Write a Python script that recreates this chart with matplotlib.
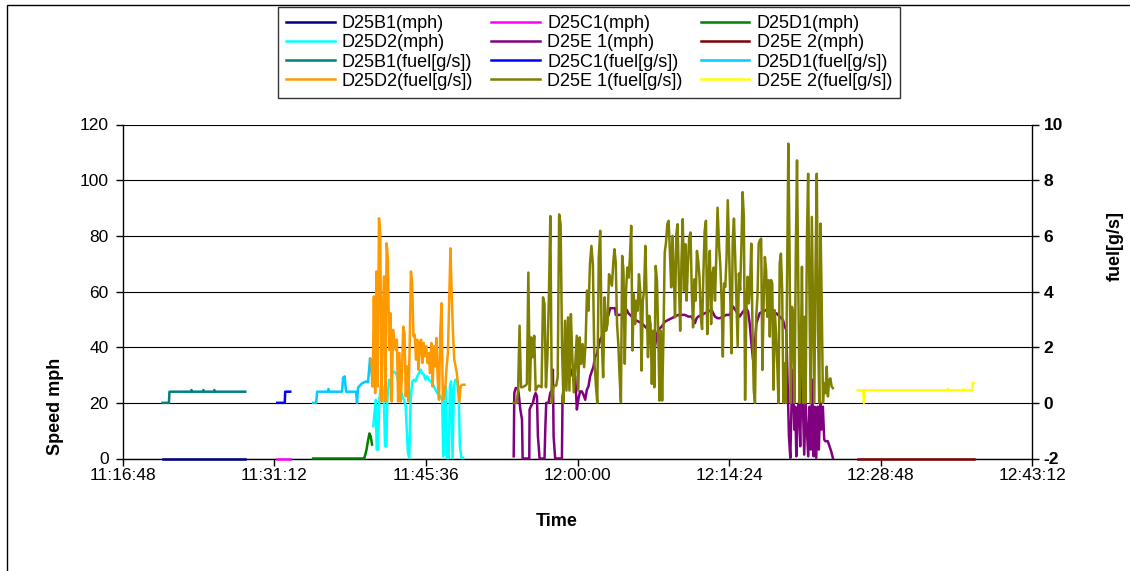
import numpy as np
import matplotlib
matplotlib.use("Agg")
import matplotlib.pyplot as plt
from matplotlib.patches import Rectangle

plt.rcParams['font.family'] = ['Liberation Sans', 'DejaVu Sans']

# ---------------- data (time = minutes after 11:00:00) ----------------
x_ticks = [16.8, 31.2, 45.6, 60.0, 74.4, 88.8, 103.2]
x_tick_labels = ["11:16:48", "11:31:12", "11:45:36", "12:00:00", "12:14:24", "12:28:48", "12:43:12"]
speed_ticks = [0, 20, 40, 60, 80, 100, 120]
fuel_ticks = [-2, 0, 2, 4, 6, 8, 10]

# D25B1
B1_t = [20.59, 28.45]
B1_mph = [0, 0]
B1_fuel_t = [20.59, 21.20, 21.25, 23.30, 23.34, 23.40, 24.43, 24.47, 24.53, 25.47, 25.51, 25.57, 28.45]
B1_fuel = [0, 0, 0.4, 0.4, 0.46, 0.4, 0.4, 0.46, 0.4, 0.4, 0.46, 0.4, 0.4]

# D25C1
C1_t = [31.48, 32.72]
C1_mph = [0, 0]
C1_fuel_t = [31.48, 32.20, 32.24, 32.72]
C1_fuel = [0, 0, 0.4, 0.4]

# D25D1
D1_t = [34.89, 39.73, 39.86, 39.98, 40.11, 40.24, 40.36, 40.49]
D1_mph = [0, 0, 1.5, 3.5, 6.5, 9.0, 8.0, 5.0]
D1_fuel_t = [34.89, 35.18, 35.27, 36.30, 36.35, 36.40, 37.64, 37.74, 37.88, 38.02, 38.97,
             39.06, 39.16, 39.54, 39.92, 40.11, 40.30, 40.39, 40.58]
D1_fuel = [0, 0, 0.4, 0.4, 0.5, 0.4, 0.4, 0.9, 0.95, 0.4, 0.4, 0, 0.55, 0.7, 0.77, 0.75, 1.6, 1.3, 0.6]

# D25D2
D2_t = [40.61, 40.84, 40.93, 41.06, 41.18, 41.31, 41.47, 41.62, 41.72, 41.85, 41.94, 42.10, 42.26,
        42.41, 42.57, 42.73, 42.89, 43.05, 43.20, 43.36, 43.52, 43.68, 43.77, 43.90, 44.02, 44.15,
        44.31, 44.47, 44.62, 44.78, 44.94, 45.10, 45.26, 45.41, 45.57, 45.73, 45.89, 46.05, 46.20,
        46.36, 46.52, 46.68, 46.84, 46.99, 47.15, 47.25, 47.37, 47.50, 47.59, 47.78, 47.88, 48.00,
        48.13, 48.26, 48.41, 48.57, 48.73, 48.83, 48.98, 49.14]
D2_mph = [11.6, 21.1, 3.2, 3.2, 21.1, 25.9, 25.9, 21.1, 4.4, 4.4, 21.1, 28.3, 25.9,
          30.7, 31.3, 30.7, 29.5, 25.9, 24.7, 22.3, 21.1, 18.8, 11.6, 2.0, 0.2, 21.1,
          27.7, 28.3, 27.7, 29.5, 30.7, 31.9, 30.7, 30.1, 28.3, 29.5, 28.3, 27.7, 27.1,
          25.9, 24.7, 23.5, 22.9, 22.3, 21.1, 0.8, 25.9, 25.9, 0.2, 0.2, 25.9, 27.7,
          0.2, 25.9, 28.3, 27.7, 21.1, 4.4, 0.2, 0.2]
D2_fuel_start, D2_fuel_end = 40.42, 49.27
D2_fuel = [1.55, 0.59, 3.82, 0.35, 4.72, 0.59, 6.63, 6.09, 0.05, 3.10, 4.54, 0.05, 5.73, 5.13,
           1.91, 3.22, 0.05, 2.62, 2.27, 1.91, 2.27, 0.05, 1.79, 0.05, 1.07, 2.74, 2.50, 0.23,
           1.31, 0.05, 1.91, 4.72, 4.30, 2.39, 2.45, 1.55, 2.27, 1.19, 2.15, 2.27, 1.43, 2.15,
           1.67, 2.03, 1.43, 1.79, 1.07, 2.15, 0.59, 2.03, 1.31, 2.33, 0.83, 0.11, 2.50, 3.58,
           0.11, 0.23, 0.59, 1.31, 1.79, 3.70, 5.55, 3.82, 2.50, 1.55, 1.31, 1.07, 0.59, 0.05,
           0.59, 0.65, 0.65, 0.65]

# D25E 1
E1_t = [53.94, 54.00, 54.13, 54.32, 54.41, 54.57, 54.73, 54.79, 55.42, 55.45, 55.58, 55.77, 55.90,
        56.02, 56.15, 56.24, 56.40, 56.87, 56.94, 57.03, 57.25, 57.41, 57.57, 57.66, 57.73, 57.88,
        58.52, 58.58, 58.67, 58.83, 58.99, 59.15, 59.31, 59.46, 59.62, 59.78, 59.94, 60.10, 60.25,
        60.41, 60.57, 60.73, 60.89, 61.04, 61.20, 61.36, 61.52, 61.67, 61.83, 61.99, 62.15, 62.31,
        62.46, 62.62, 62.78, 62.94, 63.10, 63.41,
        63.57, 63.63, 63.89, 64.20, 64.52, 64.68, 64.83, 65.15, 65.47, 65.78, 66.10, 66.41, 66.73,
        66.89, 67.05, 67.20, 67.36, 67.52, 67.68, 67.99, 68.31, 68.62, 68.94, 69.26, 69.57, 70.20,
        70.52, 70.83, 71.15, 71.31, 71.47, 71.78, 72.10, 72.41, 72.73, 73.05, 73.30,
        73.51, 73.83, 74.14, 74.46, 74.77, 75.09, 75.41, 75.72, 76.04, 76.20, 76.35, 76.51, 76.67,
        76.83, 76.99, 77.30, 77.62, 77.93, 78.25, 78.56, 78.88, 79.20, 79.51, 79.67, 79.83, 79.95,
        80.08, 80.21, 80.33, 80.46, 80.59, 80.68, 80.78, 80.90, 81.03, 81.15, 81.28, 81.41, 81.53,
        81.66, 81.79, 81.91, 82.04, 82.16, 82.29, 82.42, 82.54, 82.67, 82.80, 82.92, 83.05, 83.17,
        83.30, 83.43, 83.55, 83.77, 83.93, 84.09, 84.25]
E1_mph = [0.8, 23.5, 25.3, 25.3, 23.5, 17.6, 14.0, 0, 0, 17.6, 18.8, 20.0, 22.3,
          23.5, 22.3, 8.0, 0, 0, 10.4, 20.0, 20.0, 23.5, 24.7, 31.9, 8.0, 0,
          0, 22.3, 24.7, 27.1, 29.5, 30.7, 29.5, 31.9, 30.7, 29.5, 17.6, 21.7, 24.1,
          24.1, 22.9, 21.1, 24.7, 25.9, 29.5, 31.3, 33.1, 36.7, 37.3, 40.3, 42.7, 43.8,
          46.2, 48.6, 49.8, 51.6, 54.0, 54.0,
          54.0, 51.6, 51.6, 51.6, 51.6, 53.4, 52.2, 51.0, 49.8, 49.2, 48.6, 47.4, 46.2,
          43.8, 41.5, 37.3, 40.3, 44.4, 46.2, 47.4, 49.2, 49.8, 50.4, 51.0, 51.6, 51.6,
          51.0, 51.0, 48.6, 50.4, 51.0, 51.6, 52.2, 52.8, 53.4, 51.0, 50.4,
          50.4, 51.0, 51.6, 51.6, 54.6, 52.8, 51.0, 52.8, 54.0, 52.8, 48.6, 41.5, 35.5,
          40.3, 48.6, 52.2, 52.8, 53.4, 52.8, 52.2, 52.2, 51.0, 49.8, 47.4, 46.2, 27.1,
          8.0, 0.2, 20.0, 31.9, 10.4, 18.6, 0.8, 17.5, 20.0, 4.4, 33.1, 18.6, 1.4,
          20.0, 10.4, 0.8, 18.6, 3.2, 28.3, 0.8, 18.6, 0.2, 18.6, 3.2, 20.0, 10.4,
          18.6, 6.8, 6.2, 6.2, 4.4, 2.6, 0.2]

E1_fuel_a_start, E1_fuel_a_end = 53.94, 63.41
E1_fuel_a = [0.0, 0.0, 0.0, 0.44, 2.77, 0.56, 0.56, 0.59, 0.62, 0.68, 4.68, 0.44, 2.35, 1.64,
             2.41, 0.44, 0.56, 0.62, 0.59, 0.56, 3.79, 3.55, 0.56, 1.64, 3.79, 6.71, 0.0, 0.56,
             0.62, 0.62, 0.92, 6.77, 6.42, 1.88, 0.0, 2.95, 0.44, 3.07, 0.44, 3.19, 1.64, 0.38,
             1.40, 2.41, 0.44, 2.35, 1.40, 2.11, 1.28, 2.11, 4.03, 3.31, 4.98, 5.64, 4.98, 1.52,
             0.68, 0.0, 5.22, 6.18, 2.35, 0.92, 3.79, 2.59, 2.83, 4.62, 4.50, 4.21, 5.10]
E1_fuel_b_start, E1_fuel_b_end = 63.51, 73.30
E1_fuel_b = [5.52, 5.04, 2.83, 2.11, 0.92, 0.02, 5.28, 4.74, 1.40, 4.03, 4.86, 4.50, 5.22, 6.36,
             1.88, 3.91, 2.83, 3.67, 3.31, 4.62, 4.03, 1.16, 3.67, 4.03, 5.64, 3.67, 1.64, 3.13,
             2.83, 0.68, 2.59, 0.56, 4.92, 4.38, 2.35, 0.08, 2.59, 0.08, 2.35, 5.40, 5.76, 6.42,
             6.54, 5.46, 4.15, 6.00, 4.62, 3.07, 6.06, 6.42, 4.38, 2.59, 5.10, 6.60, 4.03, 5.70,
             3.67, 4.98, 5.94, 6.12, 4.03, 2.71, 4.44, 3.67, 5.46, 5.10, 4.50, 3.07, 2.65, 4.62,
             6.18, 6.54, 2.47, 4.50, 5.46, 2.83, 4.62, 4.86, 3.67, 5.22, 7.01]
E1_fuel_c_start, E1_fuel_c_end = 73.45, 84.25
E1_fuel_c = [5.60, 4.89, 3.69, 1.66, 4.29, 4.17, 5.24, 7.28, 5.60, 3.81, 1.78, 5.84, 6.62, 5.24,
             3.69, 2.02, 4.65, 4.05, 5.60, 7.57, 6.68, 0.11, 3.33, 4.53, 3.57, 4.17, 5.72, 2.62,
             0.47, 0.0, 3.09, 3.81, 5.72, 5.84, 5.90, 1.18, 3.57, 5.24, 4.77, 3.09, 4.41, 2.38,
             4.41, 4.29, 0.47, 3.33, 2.50, 1.42, 0.0, 5.01, 5.36, 4.05, 0.0, 1.42, 0.0, 4.77,
             9.31, 5.24, 0.0, 3.45, 3.09, 0.0, 5.24, 8.71, 4.29, 0.0, 1.42, 4.89, 0.0, 3.09,
             0.0, 5.84, 8.23, 4.17, 0.0, 6.68, 3.21, 0.0, 5.01, 8.23, 2.62, 0.0, 6.44, 3.57,
             0.0, 0.70, 0.35, 1.30, 0.23, 0.82, 0.88, 0.59, 0.53]

# D25E 2
E2_t = [86.62, 97.61]
E2_mph = [0, 0]
E2_fuel_t = [86.62, 87.13, 87.20, 87.30, 95.10, 95.15, 95.20, 96.62, 96.66, 96.70, 97.50, 97.53, 97.61]
E2_fuel = [0.45, 0.45, 0.0, 0.45, 0.45, 0.5, 0.45, 0.45, 0.5, 0.45, 0.45, 0.72, 0.72]

labels_mph = ["D25B1(mph)", "D25C1(mph)", "D25D1(mph)", "D25D2(mph)", "D25E 1(mph)", "D25E 2(mph)"]
labels_fuel = ["D25B1(fuel[g/s])", "D25C1(fuel[g/s])", "D25D1(fuel[g/s])",
               "D25D2(fuel[g/s])", "D25E 1(fuel[g/s])", "D25E 2(fuel[g/s])"]
colors_mph = ["#000080", "#FF00FF", "#008000", "#00FFFF", "#800080", "#800000"]
colors_fuel = ["#008080", "#0000FF", "#00CCFF", "#FF9900", "#808000", "#FFFF00"]

# ---------------- figure ----------------
W, H = 1130, 571
fig = plt.figure(figsize=(W / 100, H / 100), dpi=100)
L, R, T, B = 122.6, 1032.4, 124.5, 458.5
ax = fig.add_axes([L / W, 1 - B / H, (R - L) / W, (B - T) / H])
ax2 = ax.twinx()

lw = 1.8
D2_fuel_t = np.linspace(D2_fuel_start, D2_fuel_end, len(D2_fuel))
E1_fuel_t = np.concatenate([np.linspace(E1_fuel_a_start, E1_fuel_a_end, len(E1_fuel_a)),
                            np.linspace(E1_fuel_b_start, E1_fuel_b_end, len(E1_fuel_b)),
                            np.linspace(E1_fuel_c_start, E1_fuel_c_end, len(E1_fuel_c))])
E1_fuel = E1_fuel_a + E1_fuel_b + E1_fuel_c

mph_series = [(B1_t, B1_mph), (C1_t, C1_mph), (D1_t, D1_mph), (D2_t, D2_mph), (E1_t, E1_mph), (E2_t, E2_mph)]
fuel_series = [(B1_fuel_t, B1_fuel), (C1_fuel_t, C1_fuel), (D1_fuel_t, D1_fuel),
               (D2_fuel_t, D2_fuel), (E1_fuel_t, E1_fuel), (E2_fuel_t, E2_fuel)]

h_mph, h_fuel = [], []
for (t, v), c, lab in zip(mph_series, colors_mph, labels_mph):
    h, = ax.plot(t, v, color=c, lw=lw, label=lab, clip_on=False, zorder=3)
    h_mph.append(h)
for (t, v), c, lab in zip(fuel_series, colors_fuel, labels_fuel):
    h, = ax2.plot(t, v, color=c, lw=lw, label=lab, clip_on=False, zorder=3)
    h_fuel.append(h)

ax.set_xlim(x_ticks[0], x_ticks[-1])
ax.set_ylim(speed_ticks[0], speed_ticks[-1])
ax2.set_ylim(fuel_ticks[0], fuel_ticks[-1])
ax.set_xticks(x_ticks)
ax.set_xticklabels(x_tick_labels)
ax.set_yticks(speed_ticks)
ax2.set_yticks(fuel_ticks)
ax2.set_yticklabels([str(v) for v in fuel_ticks])

ax.yaxis.grid(True, color="black", lw=0.8)
ax.set_axisbelow(True)

for a in (ax, ax2):
    a.spines["top"].set_visible(False)
ax.spines["right"].set_visible(False)
ax2.spines["left"].set_visible(False)
ax2.spines["bottom"].set_visible(False)
for s in ("left", "bottom"):
    ax.spines[s].set_linewidth(1.0)
ax2.spines["right"].set_linewidth(1.0)

ax.tick_params(axis="y", direction="out", length=5, width=1, labelsize=12.5, pad=5)
ax.tick_params(axis="x", direction="out", length=5, width=1, labelsize=12.5, pad=2)
ax2.tick_params(axis="y", direction="out", length=5, width=1, labelsize=12.5, pad=3)
for lab in ax2.get_yticklabels():
    lab.set_fontweight("bold")

fig.text(55 / W, 1 - 406 / H, "Speed mph", rotation=90, ha="center", va="center",
         fontsize=13, fontweight="bold")
fig.text(557 / W, 1 - 521 / H, "Time", ha="center", va="center", fontsize=13, fontweight="bold")
fig.text(1115 / W, 1 - 246 / H, "fuel[g/s]", rotation=90, ha="center", va="center",
         fontsize=13, fontweight="bold")

# legend: column-major order to reproduce row layout
order = [h_mph[0], h_mph[3], h_fuel[0], h_fuel[3],
         h_mph[1], h_mph[4], h_fuel[1], h_fuel[4],
         h_mph[2], h_mph[5], h_fuel[2], h_fuel[5]]
leg = fig.legend(order, [h.get_label() for h in order], ncol=3, loc="center",
                 bbox_to_anchor=(589 / W, 1 - 52.5 / H), frameon=True, fancybox=False,
                 edgecolor="black", fontsize=13, handlelength=2.7, handletextpad=0.4,
                 columnspacing=1.0, labelspacing=0.12, borderpad=0.45, borderaxespad=0)
leg.get_frame().set_linewidth(1.0)

fig.add_artist(Rectangle((7 / W, -0.05), 1.2, 1.05 - 5 / H, transform=fig.transFigure,
                         fill=False, edgecolor="black", lw=1.0))

fig.savefig("out.png", dpi=100)
